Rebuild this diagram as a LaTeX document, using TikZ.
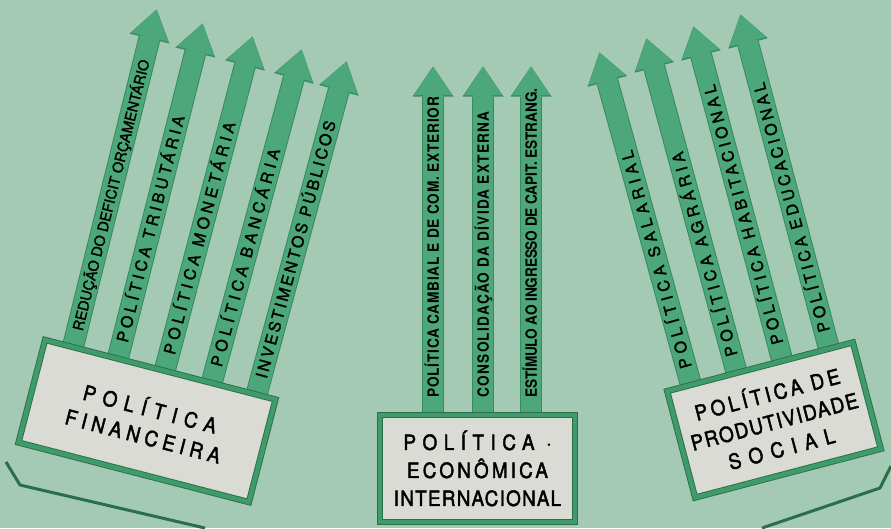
\documentclass[tikz,border=0pt]{standalone}
\usepackage{fontspec}
\setmainfont{TeX Gyre Heros}
\newfontfamily\condfont[FakeStretch=0.88]{TeX Gyre Heros}
\newfontfamily\medfont[FakeBold=2, FakeStretch=0.9]{TeX Gyre Heros}
\newfontfamily\tagfont[FakeBold=1.5]{TeX Gyre Heros}
\usetikzlibrary{arrows.meta, positioning, calc, backgrounds}
\definecolor{bggreen}{HTML}{A4CAB6}
\definecolor{arrowgreen}{HTML}{4CA77B}
\definecolor{edgegreen}{HTML}{3A8A60}
\definecolor{framegreen}{HTML}{3F9C6A}
\definecolor{darkgreen}{HTML}{2B6E4A}
\definecolor{boxgray}{HTML}{DADBD4}
\newcommand{\ls}[1]{\addfontfeatures{LetterSpace=#1}}

\begin{document}
\begin{tikzpicture}[x=1pt, y=-1pt,
            policy/.style={rectangle, draw=darkgreen, line width=0.9pt, double=framegreen, double distance=4.5pt, fill=boxgray, align=center, inner sep=0pt, font=\medfont\fontsize{21}{28}\selectfont},
            flow/.style={draw=arrowgreen, line width=20pt, shorten >=1.5pt, -{Triangle[length=28.5pt, width=38pt, line width=0pt]},
                preaction={draw=edgegreen, line width=22pt, -{Triangle[length=30pt, width=41pt, line width=0pt]}}},
            tag/.style={pos=0, sloped, allow upside down, anchor=west, inner xsep=7pt, inner ysep=0pt, text height=11.5pt, text depth=0pt, font=\tagfont\fontsize{16}{16}\selectfont},
            boldtag/.style={tag, font=\condfont\bfseries\fontsize{15.5}{15}\selectfont},
            base/.style={draw=darkgreen, line width=3pt, line join=round}
        ]
            \useasboundingbox (0,0) rectangle (891,528);

% Policy boxes
            \node[policy, rotate=-14.5, minimum width=238pt, minimum height=106pt] (fin) at (147,421) {{\ls{35}POLÍTICA}\\{\ls{24}FINANCEIRA}};
            \node[policy, minimum width=195pt, minimum height=107pt] (eco) at (477.5,468.5) {{\ls{31}POLÍTICA ·}\\{\ls{15}ECONÔMICA}\\{\ls{6}INTERNACIONAL}};
            \node[policy, rotate=14.7, minimum width=192pt, minimum height=110pt] (soc) at (774,420) {{\ls{17}POLÍTICA DE}\\{\ls{7}PRODUTIVIDADE}\\{\ls{38}SOCIAL}};

% Arrow heads
            \coordinate (f1) at (157,8);
            \coordinate (f2) at (203,22);
            \coordinate (f3) at (253,35);
            \coordinate (f4) at (302,48);
            \coordinate (f5) at (347,60);
            \coordinate (e1) at (433,65);
            \coordinate (e2) at (483,65);
            \coordinate (e3) at (531,65);
            \coordinate (s1) at (599,51);
            \coordinate (s2) at (646,37);
            \coordinate (s3) at (693,25);
            \coordinate (s4) at (740,13);

            \begin{scope}[on background layer]
            \fill[bggreen] (0,0) rectangle (891,528);

% Platforms
            \draw[base] (6,462) -- (20,485) -- (205,528);
            \draw[base] (891,466) -- (880,488) -- (762,528);

% Financial policy
            \draw[flow] ($(fin.north west)!.122!(fin.north east)$) -- node[tag] {\fontsize{14.5}{15}\selectfont REDUÇÃO DO DEFICIT ORÇAMENTÁRIO} (f1);
            \draw[flow] ($(fin.north west)!.316!(fin.north east)$) -- node[tag] {\ls{23}POLÍTICA TRIBUTÁRIA} (f2);
            \draw[flow] ($(fin.north west)!.519!(fin.north east)$) -- node[tag] {\ls{27}POLÍTICA MONETÁRIA} (f3);
            \draw[flow] ($(fin.north west)!.722!(fin.north east)$) -- node[tag] {\ls{28}POLÍTICA BANCÁRIA} (f4);
            \draw[flow] ($(fin.north west)!.916!(fin.north east)$) -- node[tag] {\ls{16}INVESTIMENTOS PÚBLICOS} (f5);

% International economic policy
            \draw[flow] (eco.north -| e1) -- node[boldtag] {\ls{5}POLÍTICA CAMBIAL E DE COM. EXTERIOR} (e1);
            \draw[flow] (eco.north -| e2) -- node[boldtag] {\ls{8.5}CONSOLIDAÇÃO DA DÍVIDA EXTERNA} (e2);
            \draw[flow] (eco.north -| e3) -- node[boldtag] {\ls{-1}ESTÍMULO AO INGRESSO DE CAPIT. ESTRANG.} (e3);

% Social productivity policy
            \draw[flow] ($(soc.north west)!.13!(soc.north east)$) -- node[tag] {\ls{30}POLÍTICA SALARIAL} (s1);
            \draw[flow] ($(soc.north west)!.375!(soc.north east)$) -- node[tag] {\ls{28}POLÍTICA AGRÁRIA} (s2);
            \draw[flow] ($(soc.north west)!.62!(soc.north east)$) -- node[tag] {\ls{25}POLÍTICA HABITACIONAL} (s3);
            \draw[flow] ($(soc.north west)!.87!(soc.north east)$) -- node[tag] {\ls{23}POLÍTICA EDUCACIONAL} (s4);
            \end{scope}

        \end{tikzpicture}
\end{document}
